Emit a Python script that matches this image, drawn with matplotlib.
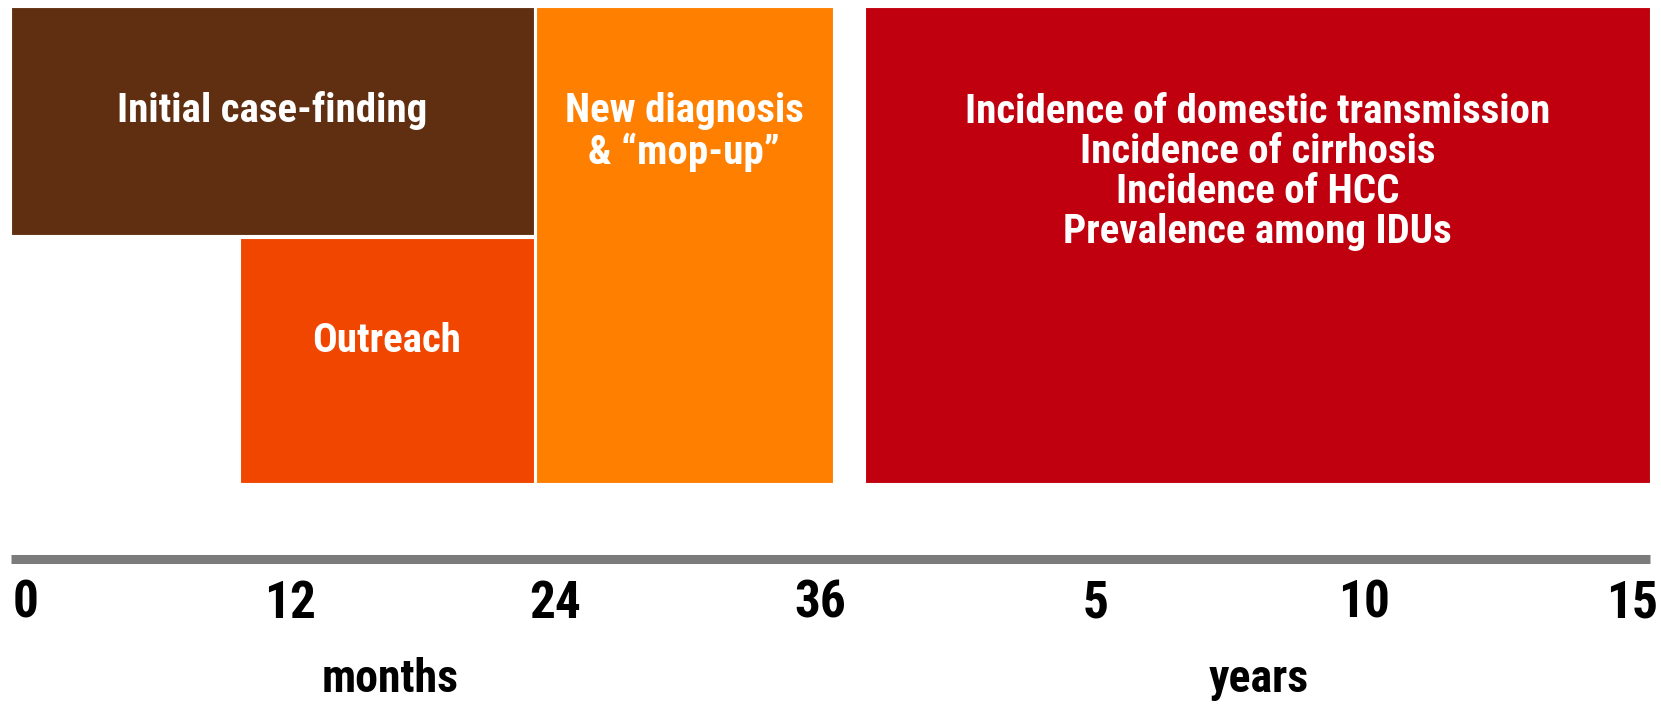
import matplotlib
matplotlib.use("Agg")
import matplotlib.pyplot as plt
from matplotlib.patches import Rectangle

# Programme phases along a broken timeline (months, then years)
phase_labels = [
    "Initial case-finding",
    "Outreach",
    "New diagnosis\n& \u201cmop-up\u201d",
    "Incidence of domestic transmission\nIncidence of cirrhosis\nIncidence of HCC\nPrevalence among IDUs",
]
# start / end on the timeline, expressed in month-equivalent units
phase_start = [-0.55, 9.8, 23.2, 38.1]
phase_end = [23.1, 23.1, 36.65, 73.6]
phase_colors = ["#602f11", "#f04600", "#ff8000", "#c0000e"]

month_ticks = [0, 12, 24, 36]
year_ticks = [5, 10, 15]
axis_titles = ["months", "years"]

# years segment of the broken axis
YEAR_ORIGIN = 36.43
YEAR_SCALE = 2.425


def year_pos(y):
    return YEAR_ORIGIN + y * YEAR_SCALE


FONT = ["Liberation Sans Narrow", "Roboto Condensed", "DejaVu Sans"]

fig = plt.figure(figsize=(16.61, 7.04), dpi=100)
ax = fig.add_axes([0, 0, 1, 1])
ax.set_xlim(-23 / 22.1, (1661 - 23) / 22.1)
ax.set_ylim(704, 0)
ax.axis("off")

# vertical extents of each box (row layout, top to bottom)
box_top = [7.4, 238, 7.4, 7.4]
box_bottom = [235, 483, 483, 483]
text_y = [110, 341, 132, 172]

for lab, s, e, c, t, b, ty in zip(phase_labels, phase_start, phase_end,
                                  phase_colors, box_top, box_bottom, text_y):
    ax.add_patch(Rectangle((s, t), e - s, b - t, facecolor=c,
                           edgecolor="white", linewidth=0.8))
    ax.text((s + e) / 2, ty, lab, ha="center", va="center",
            color="white", fontsize=29.5, fontweight="bold", family=FONT,
            linespacing=1.07)

# timeline bar
ax.plot([phase_start[0], phase_end[-1]], [559, 559], color="#7b7b7b",
        linewidth=6.5, solid_capstyle="butt")

for m in month_ticks:
    ax.text(m + 0.1, 604, str(m), ha="center", va="center", fontsize=37,
            fontweight="bold", family=FONT, color="black")
for y in year_ticks:
    ax.text(year_pos(y), 604, str(y), ha="center", va="center", fontsize=37,
            fontweight="bold", family=FONT, color="black")

ax.text(16.6, 679, axis_titles[0], ha="center", va="center", fontsize=33,
        fontweight="bold", family=FONT, color="black")
ax.text(55.9, 679, axis_titles[1], ha="center", va="center", fontsize=33,
        fontweight="bold", family=FONT, color="black")

fig.savefig("out.png", dpi=100, facecolor="white")
